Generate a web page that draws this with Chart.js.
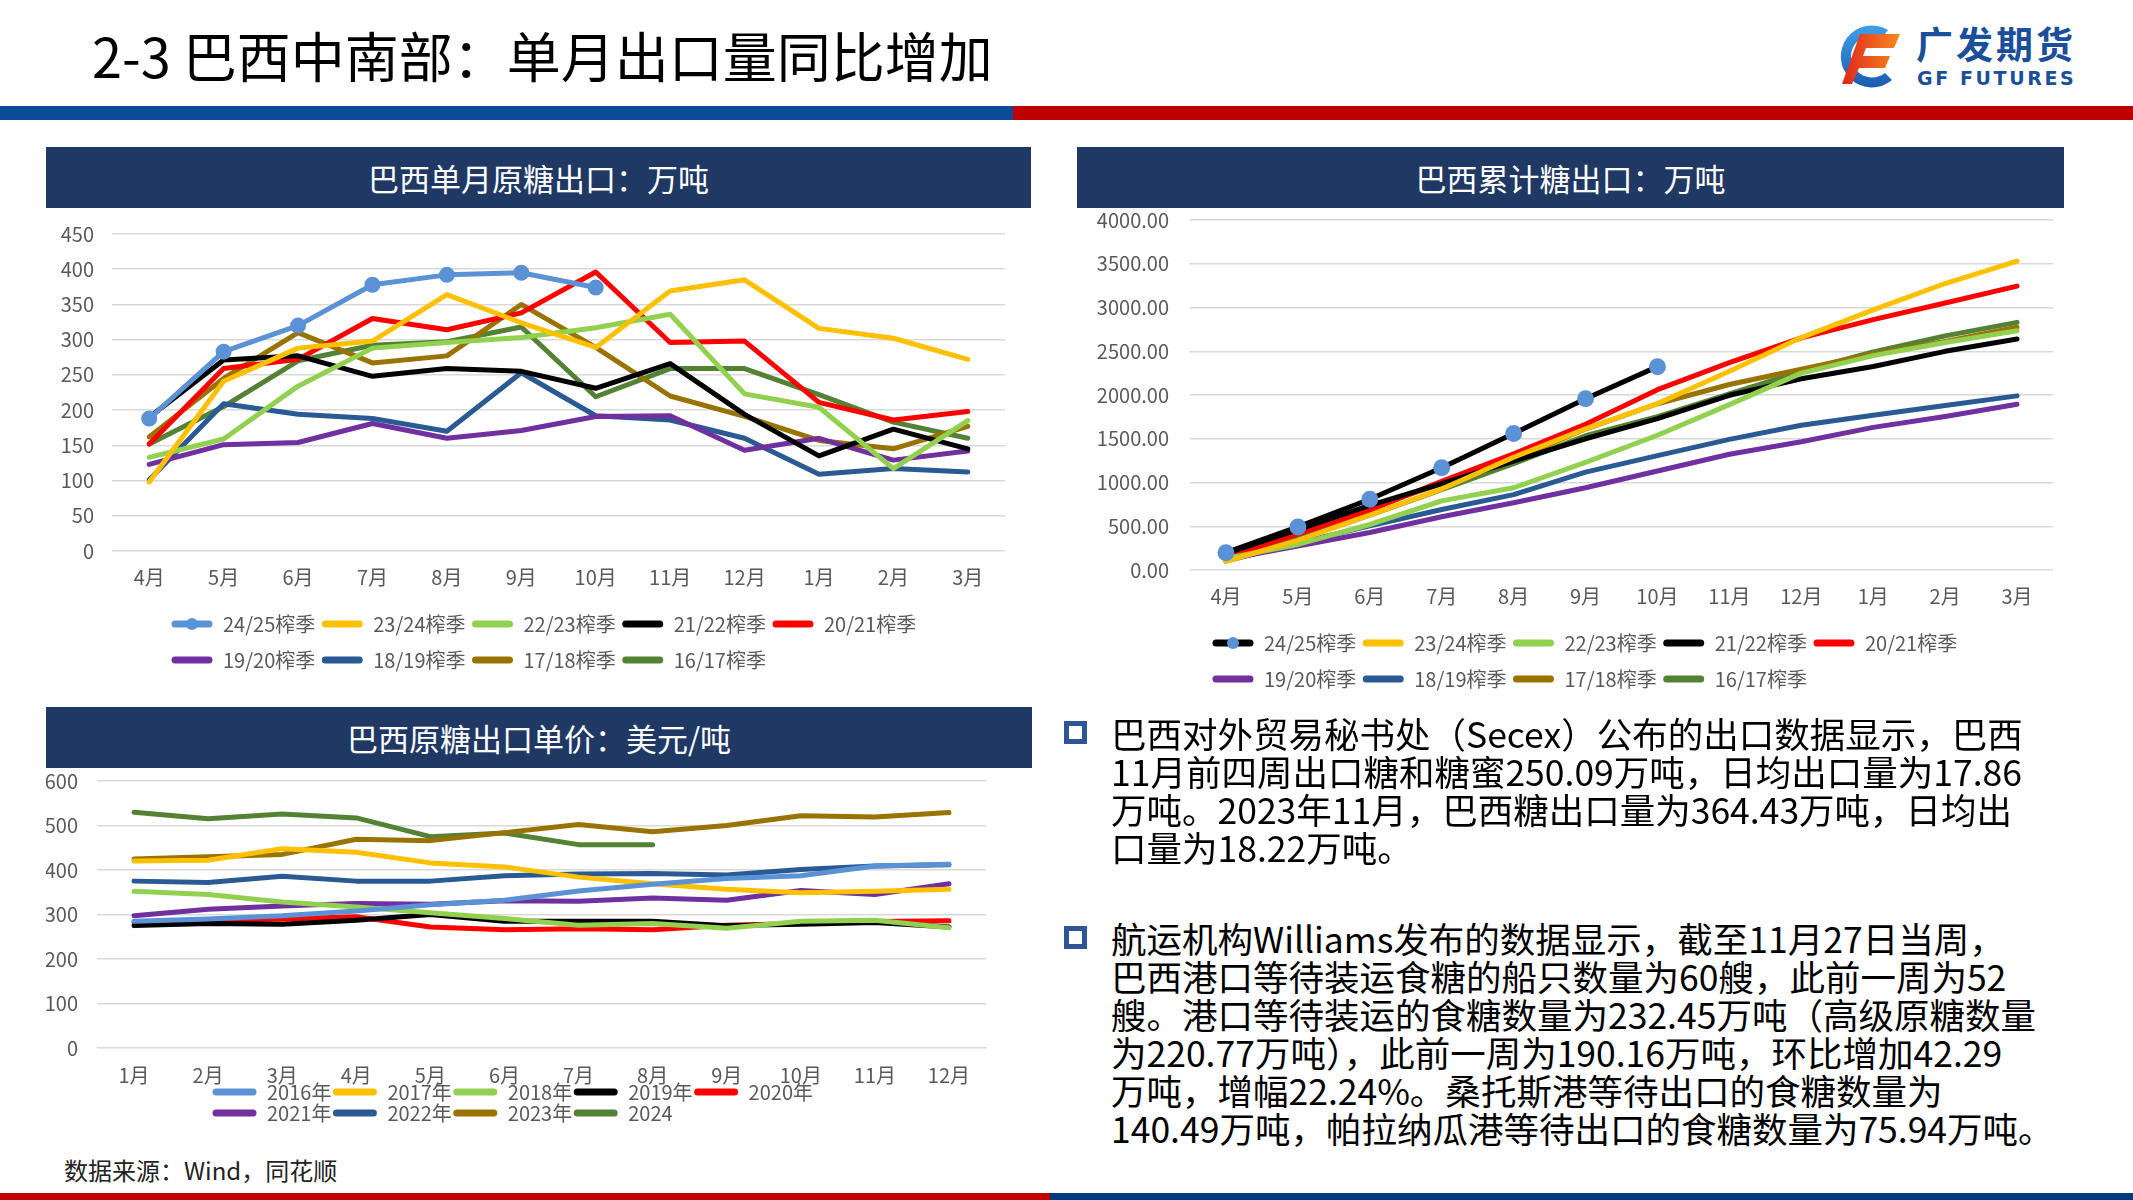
<!DOCTYPE html>
<html>
<head>
<meta charset="utf-8">
<script src="https://cdn.jsdelivr.net/npm/chart.js@4.4.1/dist/chart.umd.min.js"></script>
<style>
  html,body{margin:0;padding:0;}
  body{width:2133px;height:1200px;position:relative;background:#fff;overflow:hidden;
       font-family:"Noto Sans CJK SC","Noto Sans",sans-serif;}
  .abs{position:absolute;}
  .title{left:92px;top:20px;height:70px;line-height:70px;font-size:54px;color:#000;white-space:nowrap;}
  .ptitle{background:#1F3864;color:#fff;font-size:31px;display:flex;align-items:center;justify-content:center;white-space:nowrap;}
  .para{left:1111px;font-size:35.5px;line-height:38px;color:#000;white-space:nowrap;}
  .bullet{width:13px;height:13px;border:5px solid #2F5597;background:#fff;}
  canvas{position:absolute;}
</style>
</head>
<body>
  <div class="abs title">2-3 巴西中南部：单月出口量同比增加</div>

  <!-- logo -->
  <svg class="abs" style="left:1830px;top:18px" width="80" height="80" viewBox="0 0 80 80">
    <defs>
      <linearGradient id="gb" x1="0" y1="0" x2="0" y2="1">
        <stop offset="0" stop-color="#3fa0e8"/><stop offset="1" stop-color="#1a5bb0"/>
      </linearGradient>
      <linearGradient id="gr" x1="0" y1="0" x2="1" y2="0">
        <stop offset="0" stop-color="#e0261b"/><stop offset="1" stop-color="#f58a1f"/>
      </linearGradient>
    </defs>
    <path d="M58 12 A31 31 0 1 0 62 62 L55 55 A21 21 0 1 1 52 20 Z" fill="url(#gb)"/>
    <path d="M30 16 L70 16 L64 30 L36 30 L33 38 L60 38 L55 50 L29 50 L22 66 L12 66 Z" fill="url(#gr)"/>
  </svg>
  <div class="abs" style="left:1916px;top:18px;font-size:37px;font-weight:bold;color:#1b4f9c;letter-spacing:3px;line-height:50px;white-space:nowrap">广发期货</div>
  <div class="abs" style="left:1917px;top:66px;font-size:19px;font-weight:bold;color:#1b4f9c;letter-spacing:2.6px;line-height:24px;white-space:nowrap;font-family:'DejaVu Sans','Noto Sans',sans-serif">GF FUTURES</div>

  <!-- header bars -->
  <div class="abs" style="left:0;top:106px;width:1013px;height:14px;background:#0B4A95"></div>
  <div class="abs" style="left:1013px;top:106px;width:1120px;height:14px;background:#C00000"></div>

  <!-- panel titles -->
  <div class="abs ptitle" style="left:46px;top:147px;width:985px;height:61px">巴西单月原糖出口：万吨</div>
  <div class="abs ptitle" style="left:1077px;top:147px;width:987px;height:61px">巴西累计糖出口：万吨</div>
  <div class="abs ptitle" style="left:46px;top:707px;width:986px;height:61px">巴西原糖出口单价：美元/吨</div>

  <canvas id="c1" width="985" height="486" style="left:46px;top:204px"></canvas>
  <canvas id="c2" width="987" height="522" style="left:1077px;top:187px"></canvas>
  <canvas id="c3" width="986" height="395" style="left:46px;top:750px"></canvas>

  <!-- text block -->
  <div class="abs bullet" style="left:1064px;top:721px"></div>
  <div class="abs para" style="top:714px">巴西对外贸易秘书处（Secex）公布的出口数据显示，巴西<br>11月前四周出口糖和糖蜜250.09万吨，日均出口量为17.86<br>万吨。2023年11月，巴西糖出口量为364.43万吨，日均出<br>口量为18.22万吨。</div>
  <div class="abs bullet" style="left:1064px;top:926px"></div>
  <div class="abs para" style="top:919px">航运机构Williams发布的数据显示，截至11月27日当周，<br>巴西港口等待装运食糖的船只数量为60艘，此前一周为52<br>艘。港口等待装运的食糖数量为232.45万吨（高级原糖数量<br>为220.77万吨），此前一周为190.16万吨，环比增加42.29<br>万吨，增幅22.24%。桑托斯港等待出口的食糖数量为<br>140.49万吨，帕拉纳瓜港等待出口的食糖数量为75.94万吨。</div>

  <div class="abs" style="left:64px;top:1154px;font-size:24px;line-height:32px;color:#222;white-space:nowrap">数据来源：Wind，同花顺</div>

  <!-- footer bars -->
  <div class="abs" style="left:0;top:1193px;width:1050px;height:7px;background:#C00000"></div>
  <div class="abs" style="left:1050px;top:1193px;width:1083px;height:7px;background:#003A80"></div>

<script>
// ---------- categories ----------
const seasonMonths = ['4月','5月','6月','7月','8月','9月','10月','11月','12月','1月','2月','3月'];
const yearMonths = ['1月','2月','3月','4月','5月','6月','7月','8月','9月','10月','11月','12月'];
const seasonNames = ['24/25榨季','23/24榨季','22/23榨季','21/22榨季','20/21榨季','19/20榨季','18/19榨季','17/18榨季','16/17榨季'];
const yearNames = ['2016年','2017年','2018年','2019年','2020年','2021年','2022年','2023年','2024'];

// ---------- 巴西单月原糖出口（万吨） ----------
const m2425 = [188,283,320,378,392,395,374];
const m2324 = [98,241,288,298,364,324,289,369,385,316,302,272];
const m2223 = [133,159,234,288,296,303,317,336,223,204,117,185];
const m2122 = [190,271,277,248,259,255,231,266,194,135,173,145];
const m2021 = [152,259,272,330,314,338,396,296,298,211,186,198];
const m1920 = [123,151,154,181,160,171,191,192,143,160,129,142];
const m1819 = [101,209,194,188,170,253,192,186,160,109,117,112];
const m1718 = [162,245,310,267,277,350,289,220,191,157,145,177];
const m1617 = [152,205,270,292,297,318,219,259,259,222,183,160];

// ---------- 巴西累计糖出口（万吨） ----------
const c2425 = [198,492,809,1168,1561,1958,2324];
const c2324 = [98,339,627,925,1289,1613,1902,2271,2656,2972,3274,3530];
const c2223 = [133,292,520,790,940,1230,1540,1890,2250,2450,2600,2735];
const c2122 = [190,461,738,986,1245,1500,1731,1997,2185,2326,2499,2640];
const c2021 = [152,411,683,1013,1327,1665,2061,2370,2652,2862,3052,3245];
const c1920 = [123,274,428,609,769,940,1131,1323,1466,1630,1755,1895];
const c1819 = [101,310,504,692,862,1118,1307,1493,1655,1768,1879,1990];
const c1718 = [162,407,717,984,1261,1611,1900,2120,2295,2468,2613,2775];
const c1617 = [152,357,627,919,1216,1534,1753,2012,2271,2493,2676,2830];

// ---------- 巴西原糖出口单价（美元/吨） ----------
const p2016 = [285,290,297,308,322,332,353,368,381,387,409,413];
const p2017 = [420,422,448,440,416,407,384,369,357,349,352,357];
const p2018 = [352,345,328,317,304,291,276,280,269,285,287,270];
const p2019 = [275,280,278,287,300,285,285,285,275,278,282,272];
const p2020 = [282,286,290,295,272,266,268,266,276,280,284,286];
const p2021 = [297,312,319,325,323,331,330,337,332,354,345,369];
const p2022 = [375,372,386,375,375,387,391,392,389,401,409,412];
const p2023 = [425,430,435,469,466,484,502,486,500,522,519,529];
const p2024 = [530,515,526,517,475,483,457,457];

// ---------- styles ----------
const seasonColors = ['#5B92D6','#FFC000','#92D050','#000000','#FF0000','#7030A0','#2A5A94','#997300','#548235'];
const yearColors = ['#5B92D6','#FFC000','#92D050','#000000','#FF0000','#7030A0','#2A5A94','#997300','#548235'];

Chart.defaults.font.family = '"Noto Sans CJK SC","Noto Sans",sans-serif';
Chart.defaults.color = '#595959';

const legendTweaks = {
  id: 'legendTweaks',
  beforeLayout(chart, args, o) {
    const lg = chart.legend;
    if (lg && !lg._patched) {
      lg._patched = true;
      const orig = lg.update;
      lg.update = function(w, h, m) { return orig.call(this, Math.min(w, o.maxW), h, m); };
    }
  },
  afterLayout(chart, args, o) {
    const lg = chart.legend;
    if (!lg) return;
    const pad = chart.options.plugins.legend.labels.padding;
    lg.left = o.startX - o.canvasLeft - pad;
    lg.right = lg.left + o.maxW;
    lg.top += o.dy; lg.bottom += o.dy;
  },
  afterDraw(chart, args, o) {
    const lg = chart.legend;
    if (!lg || !lg.legendHitBoxes) return;
    const ctx = chart.ctx;
    lg.legendItems.forEach((it, i) => {
      const hb = lg.legendHitBoxes[i];
      const ds = chart.data.datasets[it.datasetIndex];
      const y = hb.top + hb.height / 2;
      const x0 = hb.left + o.capPad, x1 = hb.left + o.boxW - o.capPad;
      ctx.save();
      ctx.strokeStyle = ds.borderColor;
      ctx.lineWidth = o.lineW;
      ctx.lineCap = 'round';
      ctx.beginPath(); ctx.moveTo(x0, y); ctx.lineTo(x1, y); ctx.stroke();
      if (ds.legendMarker) {
        ctx.fillStyle = ds.legendMarker;
        ctx.beginPath(); ctx.arc((x0 + x1) / 2, y, o.markerR, 0, Math.PI * 2); ctx.fill();
      }
      ctx.restore();
    });
  }
};

function legendLabels(boxW, boxH, pad, size) {
  return {
    boxWidth: boxW, boxHeight: boxH, padding: pad,
    font: { size: size }, color: '#595959',
    generateLabels(chart) {
      const items = Chart.defaults.plugins.legend.labels.generateLabels(chart);
      items.forEach(it => { it.fillStyle = 'rgba(0,0,0,0)'; it.strokeStyle = 'rgba(0,0,0,0)'; it.lineWidth = 0; });
      return items;
    }
  };
}

function makeOptions(cfg) {
  return {
    responsive: false,
    animation: false,
    devicePixelRatio: 1,
    layout: { padding: cfg.padding },
    elements: { line: { tension: 0, borderCapStyle: 'round', borderJoinStyle: 'round' }, point: { radius: 0, hoverRadius: 0 } },
    scales: {
      x: {
        type: 'category', offset: true,
        grid: { display: false, drawTicks: false },
        border: { display: false },
        ticks: { padding: cfg.xPad, font: { size: 20 }, color: '#595959', maxRotation: 0, autoSkip: false },
        afterFit(s) { s.height = cfg.xH; }
      },
      y: {
        min: cfg.yMin, max: cfg.yMax,
        grid: { color: '#D9D9D9', lineWidth: 1.5, drawTicks: false },
        border: { display: false },
        ticks: { stepSize: cfg.step, padding: cfg.yPad, font: { size: 20 }, color: '#595959',
                 callback: cfg.fmt },
        afterFit(s) { s.width = cfg.yW; }
      }
    },
    plugins: {
      tooltip: { enabled: false },
      legend: { position: 'bottom', align: 'start', labels: legendLabels(cfg.boxW, cfg.boxH, cfg.lpad, cfg.lsize) },
      legendTweaks: { maxW: cfg.maxW, startX: cfg.startX, canvasLeft: cfg.canvasLeft, dy: cfg.dy || 0, capPad: 4, boxW: cfg.boxW, lineW: 7, markerR: 6 }
    }
  };
}

function ds(label, data, color, width, extra) {
  return Object.assign({ label, data, borderColor: color, backgroundColor: color, borderWidth: width, fill: false, pointRadius: 0 }, extra || {});
}

// ---------- chart 1 ----------
const monthlySeries = [m2425, m2324, m2223, m2122, m2021, m1920, m1819, m1718, m1617];
new Chart(document.getElementById('c1'), {
  type: 'line',
  data: {
    labels: seasonMonths,
    datasets: monthlySeries.map((d, i) => ds(seasonNames[i], d, seasonColors[i], 5,
      i === 0 ? { pointRadius: 5.5, pointBackgroundColor: seasonColors[0], pointBorderColor: seasonColors[0], legendMarker: seasonColors[0] } : {}))
  },
  options: makeOptions({ padding: { left: 0, right: 26, top: 28, bottom: 5 }, xPad: 14, xH: 52, yMin: 0, yMax: 450, step: 50,
    yPad: 18, yW: 66, fmt: v => v, boxW: 42, boxH: 30, lpad: 6, lsize: 20, maxW: 800, startX: 171, canvasLeft: 46 }),
  plugins: [legendTweaks]
});

// ---------- chart 2 ----------
const cumSeries = [c2425, c2324, c2223, c2122, c2021, c1920, c1819, c1718, c1617];
const cumColors = ['#000000'].concat(seasonColors.slice(1));
new Chart(document.getElementById('c2'), {
  type: 'line',
  data: {
    labels: seasonMonths,
    datasets: cumSeries.map((d, i) => ds(seasonNames[i], d, cumColors[i], 5,
      i === 0 ? { pointRadius: 6, pointBackgroundColor: seasonColors[0], pointBorderColor: seasonColors[0], legendMarker: seasonColors[0] } : {}))
  },
  options: makeOptions({ padding: { left: 0, right: 9, top: 25, bottom: 5 }, xPad: 14, xH: 52, yMin: 0, yMax: 4000, step: 500,
    yPad: 21, yW: 113, fmt: v => Number(v).toFixed(2), boxW: 42, boxH: 30, lpad: 6, lsize: 20, maxW: 800, startX: 1212, canvasLeft: 1077 }),
  plugins: [legendTweaks]
});

// ---------- chart 3 ----------
const priceSeries = [p2016, p2017, p2018, p2019, p2020, p2021, p2022, p2023, p2024];
new Chart(document.getElementById('c3'), {
  type: 'line',
  data: {
    labels: yearMonths,
    datasets: priceSeries.map((d, i) => ds(yearNames[i], d, yearColors[i], 5))
  },
  options: makeOptions({ padding: { left: 0, right: 46, top: 20, bottom: 5 }, xPad: 15, xH: 40, yMin: 0, yMax: 600, step: 100,
    yPad: 19, yW: 51, fmt: v => v, boxW: 45, boxH: 20, lpad: 1, lsize: 20, maxW: 650, startX: 212, canvasLeft: 46, dy: -7 }),
  plugins: [legendTweaks]
});
</script>
</body>
</html>
